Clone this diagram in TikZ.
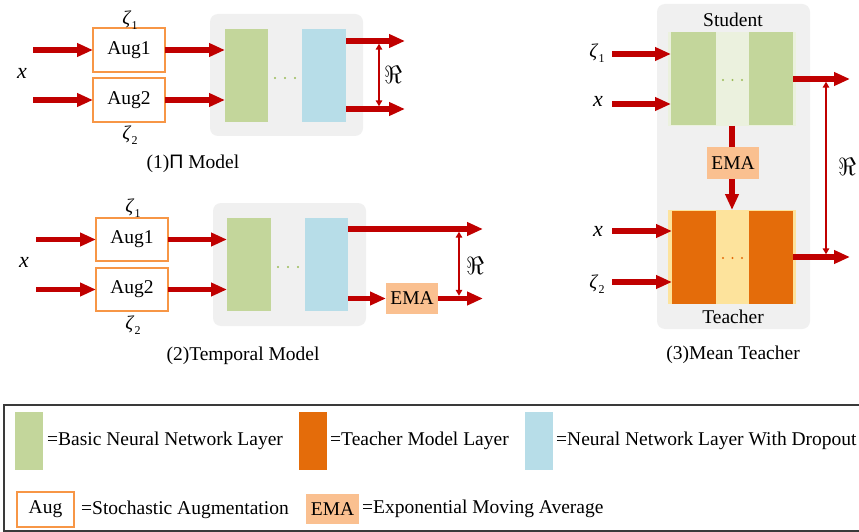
\documentclass[tikz,border=0pt]{standalone}
\usepackage{fontspec}
\setmainfont{Liberation Serif}
\newfontfamily\greeksans{Liberation Sans}
\usetikzlibrary{arrows.meta,calc}

\definecolor{arrowred}{HTML}{C00000}
\definecolor{layergreen}{HTML}{C3D69B}
\definecolor{layerblue}{HTML}{B7DDE8}
\definecolor{teacherorange}{HTML}{E46C0A}
\definecolor{teacheryellow}{HTML}{FDE39C}
\definecolor{studentpale}{HTML}{EBF1DE}
\definecolor{emafill}{HTML}{FAC090}
\definecolor{augorange}{HTML}{F79646}
\definecolor{panelgray}{HTML}{F0F0F0}
\definecolor{dotgreen}{HTML}{9BBB59}
\definecolor{framegray}{HTML}{3A3A3A}

% zeta with an upright subscript index
\newcommand{\zetaidx}[1]{\textit{ζ}\kern0.3pt\raisebox{-0.5ex}{\fontsize{12}{12}\selectfont #1}}

\begin{document}
\begin{tikzpicture}[x=1pt,y=-1pt,
  every node/.append style={font=\fontsize{19.5}{22}\selectfont},
  panel/.style={fill=panelgray, rounded corners=8pt},
  blk/.style={inner sep=0pt, outer sep=0pt, draw=none},
  augbox/.style={blk, draw=augorange, line width=1.4pt, fill=white,
                 minimum width=72pt, minimum height=44pt},
  emabox/.style={blk, fill=emafill, minimum width=52pt, minimum height=31pt},
  flow/.style={draw=arrowred, line width=5.5pt, -{Triangle[length=16pt,width=13pt]}},
  plainflow/.style={draw=arrowred, line width=5.5pt},
  gap/.style={draw=arrowred, line width=2pt,
              {Triangle[length=6pt,width=6.5pt]}-{Triangle[length=6pt,width=6.5pt]}},
  lbl/.style={inner sep=0pt},
  reg/.style={inner sep=0pt, font=\fontsize{25}{26}\selectfont},
  legtext/.style={inner sep=0pt, anchor=west},
]
\useasboundingbox (0,0) rectangle (859,532);
\fill[white] (0,0) rectangle (859,532);

%% ---------------- (1) Pi model ----------------
\fill[panel] (210,14) rectangle (363,136);
\node[blk, fill=layergreen, minimum width=43pt, minimum height=93pt] (g1) at (246.5,75.5) {};
\node[blk, fill=layerblue,  minimum width=44pt, minimum height=93pt] (b1) at (324,75.5) {};
\foreach \dx in {275,285,295} \fill[dotgreen] (\dx,78) circle (1.1pt);

\node[augbox] (a1) at (129,50) {Aug1};
\node[augbox] (a2) at (129,100) {Aug2};
\node[lbl] (z1a) at (130,20) {\zetaidx{1}};
\node[lbl] (z2a) at (130,135) {\zetaidx{2}};
\node[lbl, font=\fontsize{22}{24}\selectfont] (xa) at (22,73) {\textit{x}};

\coordinate (ia1) at (33,50);
\coordinate (ia2) at (33,100);
\coordinate (oa1) at (405,41);
\coordinate (oa2) at (405,109);

\draw[flow] (ia1) -- (a1.west);
\draw[flow] (ia2) -- (a2.west);
\draw[flow] (a1.east) -- (a1.east -| g1.west);
\draw[flow] (a2.east) -- (a2.east -| g1.west);
\draw[flow] (b1.east |- oa1) -- (oa1);
\draw[flow] (b1.east |- oa2) -- (oa2);
\draw[gap] ($(379,0 |- oa1)+(0,2.7)$) -- ($(379,0 |- oa2)+(0,-2.7)$);
\node[reg] (ra) at (393,75) {$\Re$};

\node[lbl] (cap1) at (193,164) {(1){\greeksans Π} Model};

%% ---------------- (2) Temporal model ----------------
\fill[panel] (213,203) rectangle (366,326);
\node[blk, fill=layergreen, minimum width=44pt, minimum height=93pt] (g2) at (249,264.5) {};
\node[blk, fill=layerblue,  minimum width=43pt, minimum height=93pt] (b2) at (326.5,264.5) {};
\foreach \dx in {278,288,298} \fill[dotgreen] (\dx,267) circle (1.1pt);

\node[augbox, minimum height=43pt] (a3) at (132,239.5) {Aug1};
\node[augbox, minimum height=43pt] (a4) at (132,289.5) {Aug2};
\node[lbl] (z1b) at (133,208) {\zetaidx{1}};
\node[lbl] (z2b) at (133,325) {\zetaidx{2}};
\node[lbl, font=\fontsize{22}{24}\selectfont] (xb) at (24,262) {\textit{x}};
\node[emabox] (ema2) at (412,298.5) {EMA};

\coordinate (ib1) at (36,239.5);
\coordinate (ib2) at (36,289.5);
\coordinate (ob1) at (483,229);
\coordinate (ob2) at (483,298.5);

\draw[flow] (ib1) -- (a3.west);
\draw[flow] (ib2) -- (a4.west);
\draw[flow] (a3.east) -- (a3.east -| g2.west);
\draw[flow] (a4.east) -- (a4.east -| g2.west);
\draw[flow] (b2.east |- ob1) -- (ob1);
\draw[flow] (b2.east |- ema2.west) -- (ema2.west);
\draw[flow] (ema2.east) -- (ob2);
\draw[gap] ($(459,0 |- ob1)+(0,2.7)$) -- ($(459,0 |- ob2)+(0,-2.7)$);
\node[reg] (rb) at (475,266) {$\Re$};

\node[lbl] (cap2) at (243,356) {(2)Temporal Model};

%% ---------------- (3) Mean teacher ----------------
\fill[panel] (657,4) rectangle (810,329);
\node[lbl] (stulbl) at (733,20) {Student};
\node[lbl] (tealbl) at (733,317) {Teacher};

\node[blk, fill=studentpale, minimum width=128pt, minimum height=94pt] (stu) at (732,79) {};
\node[blk, fill=layergreen, minimum width=45pt, minimum height=93pt] (stuL) at (693.5,79) {};
\node[blk, fill=layergreen, minimum width=44pt, minimum height=93pt] (stuR) at (771,79) {};
\foreach \dx in {723,732.5,742} \fill[dotgreen] (\dx,80) circle (1.1pt);

\node[blk, fill=teacheryellow, minimum width=128pt, minimum height=94pt] (tea) at (732,257) {};
\node[blk, fill=teacherorange, minimum width=44pt, minimum height=93pt] (teaL) at (694,257.5) {};
\node[blk, fill=teacherorange, minimum width=44pt, minimum height=93pt] (teaR) at (771,257.5) {};
\foreach \dx in {723,732.5,742} \fill[teacherorange] (\dx,258) circle (1.1pt);

\node[emabox, minimum height=32pt] (ema3) at (733,163) {EMA};

\node[lbl] (z1c) at (597,53) {\zetaidx{1}};
\node[lbl, font=\fontsize{22}{24}\selectfont] (xc1) at (598,101) {\textit{x}};
\node[lbl, font=\fontsize{22}{24}\selectfont] (xc2) at (598,231) {\textit{x}};
\node[lbl] (z2c) at (597,284) {\zetaidx{2}};

\coordinate (ic1) at (612,54);
\coordinate (ic2) at (612,104);
\coordinate (ic3) at (612,231);
\coordinate (ic4) at (612,282);
\coordinate (oc1) at (850,79);
\coordinate (oc2) at (850,257);

\draw[flow] (ic1) -- (ic1 -| stuL.west);
\draw[flow] (ic2) -- (ic2 -| stuL.west);
\draw[flow] (ic3) -- (ic3 -| teaL.west);
\draw[flow] (ic4) -- (ic4 -| teaL.west);
\draw[plainflow] (stu.south) -- (stu.south |- ema3.north);
\draw[flow] (stu.south |- ema3.south) -- (stu.south |- tea.north);
\draw[flow] (stuR.east |- oc1) -- (oc1);
\draw[flow] (teaR.east |- oc2) -- (oc2);
\draw[gap] ($(826,0 |- oc1)+(0,2.7)$) -- ($(826,0 |- oc2)+(0,-2.7)$);
\node[reg] (rc) at (847,167) {$\Re$};

\node[lbl] (cap3) at (733,355) {(3)Mean Teacher};

%% ---------------- legend ----------------
\draw[framegray, line width=2pt] (4,405) rectangle (866,531);

\node[blk, fill=layergreen, minimum width=28pt, minimum height=58pt] (sw1) at (29,441) {};
\node[legtext] (t1) at (47,441) {=Basic Neural Network Layer};
\node[blk, fill=teacherorange, minimum width=28pt, minimum height=58pt] (sw2) at (313,441) {};
\node[legtext] (t2) at (330,441) {=Teacher Model Layer};
\node[blk, fill=layerblue, minimum width=28pt, minimum height=58pt] (sw3) at (539,441) {};
\node[legtext] (t3) at (556,441) {=Neural Network Layer With Dropout};

\node[augbox, minimum width=57pt, minimum height=35pt] (sw4) at (45.5,509.5) {Aug};
\node[legtext] (t4) at (81,509.5) {=Stochastic Augmentation};
\node[emabox, minimum width=53pt, minimum height=30pt] (sw5) at (332.5,509) {EMA};
\node[legtext] (t5) at (362,509) {=Exponential Moving Average};
\end{tikzpicture}
\end{document}
